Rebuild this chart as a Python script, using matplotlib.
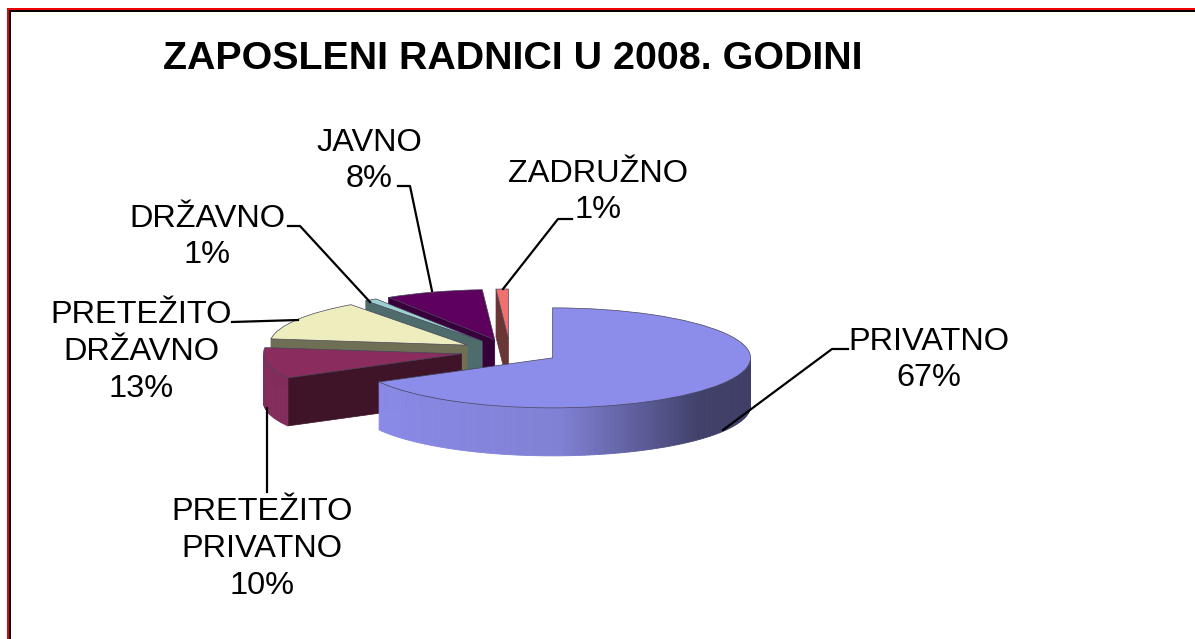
import numpy as np
import matplotlib
matplotlib.use("Agg")
import matplotlib.pyplot as plt
from matplotlib.patches import Polygon, Rectangle

W, H = 1195, 639

categories = ["PRIVATNO", "PRETEŽITO\nPRIVATNO", "PRETEŽITO\nDRŽAVNO", "DRŽAVNO", "JAVNO", "ZADRUŽNO"]
values = [67, 10, 13, 1, 8, 1]
title = "ZAPOSLENI RADNICI U 2008. GODINI"

# colours for each slice: top, side wall
top_colors = ["#8C8CEB", "#8A2C5E", "#EDEDBE", "#9FD0D0", "#5E005E", "#F07070"]
wall_colors = ["#8888E6", "#3F1428", "#6F6F55", "#4F6C6C", "#38003A", "#6A3535"]
outer_colors = ["#8888E6", "#832C5C", "#6F6F55", "#4F6C6C", "#38003A", "#6A3535"]

# pixel geometry of the pie
cx, cy = 510, 351.5
rx, ry = 198, 50
depth = 48 / ry
lim = 3

plt.rcParams["font.family"] = ["Liberation Sans", "DejaVu Sans"]

fig = plt.figure(figsize=(W / 100, H / 100), dpi=100)

# overlay in pixel coordinates for frame, lines and text
bg = fig.add_axes([0, 0, 1, 1])
bg.set_xlim(0, W)
bg.set_ylim(H, 0)
bg.axis("off")
bg.set_zorder(2)

# pie axes, squashed so that the circle becomes the ellipse
ax = fig.add_axes([(cx - lim * rx) / W, 1 - (cy + lim * ry) / H, 2 * lim * rx / W, 2 * lim * ry / H])
ax.set_zorder(1)
wedges, _ = ax.pie(values, colors=top_colors, explode=[0.25] * len(values), startangle=90,
                   counterclock=False, radius=1, wedgeprops={"linewidth": 0.5, "edgecolor": "#45455A"})
ax.set_aspect("auto")
ax.set_xlim(-lim, lim)
ax.set_ylim(-lim, lim)
ax.patch.set_alpha(0)


def shade(x):
    # privatno wall gets darker to the right
    r = np.interp(x, [-0.9, 0.05, 0.4, 0.75, 1], [0x8A, 0x80, 0x60, 0x40, 0x3E])
    g = np.interp(x, [-0.9, 0.05, 0.4, 0.75, 1], [0x8A, 0x80, 0x60, 0x40, 0x3E])
    b = np.interp(x, [-0.9, 0.05, 0.4, 0.75, 1], [0xE8, 0xD4, 0xA0, 0x6A, 0x66])
    return (r / 255, g / 255, b / 255)


# back slices first
draw_order = [5, 4, 3, 2, 1, 0]
for z, i in enumerate(draw_order):
    w = wedges[i]
    ox, oy = w.center
    t1, t2 = w.theta1, w.theta2
    w.set_zorder(z * 3 + 2)

    # radial faces that look towards the viewer
    for t, visible in ((t1, np.cos(np.radians(t1)) > 1e-6), (t2, np.cos(np.radians(t2)) < -1e-6)):
        if visible:
            ex, ey = ox + np.cos(np.radians(t)), oy + np.sin(np.radians(t))
            ax.add_patch(Polygon([(ox, oy), (ex, ey), (ex, ey - depth), (ox, oy - depth)],
                                 closed=True, fc=wall_colors[i], ec=wall_colors[i], lw=0.5, zorder=z * 3))

    # outer wall, lower half of the rim only
    arc = np.linspace(t1, t2, int((t2 - t1) / 1.5) + 2)
    arc = arc[np.sin(np.radians(arc)) < 0]
    for a, b in zip(arc[:-1], arc[1:]):
        xs = ox + np.cos(np.radians([a, b]))
        ys = oy + np.sin(np.radians([a, b]))
        c = shade(xs.mean() - ox) if i == 0 else outer_colors[i]
        ax.add_patch(Polygon([(xs[0], ys[0]), (xs[1], ys[1]), (xs[1], ys[1] - depth), (xs[0], ys[0] - depth)],
                             closed=True, fc=c, ec=c, lw=0.6, zorder=z * 3 + 1))

# frame, only top and left are in the picture
bg.add_patch(Rectangle((9, 10), W - 9, 1.6, fc="black", ec="none"))
bg.add_patch(Rectangle((9, 10), 2, H - 10, fc="black", ec="none"))
bg.add_patch(Rectangle((7, 8), W - 7, 2, fc="#F00000", ec="none"))
bg.add_patch(Rectangle((7, 8), 2, H - 8, fc="#F00000", ec="none"))

bg.text(163, 59, title, fontsize=28.4, fontweight="bold", va="center", ha="left")

# labels
label_pos = [(929, 360), (262, 549), (141, 352), (207, 237), (369, 161), (598, 192)]
for name, v, (x, y) in zip(categories, values, label_pos):
    bg.text(x, y, f"{name}\n{v}%", fontsize=23.4, ha="center", va="center", linespacing=1.29)

# leader lines
leaders = [
    [(723, 430), (832, 349), (848, 349)],
    [(267, 408), (267, 492)],
    [(298, 320), (232, 322)],
    [(370, 302), (300, 226), (288, 226)],
    [(432, 291), (410, 186), (398, 186)],
    [(503, 289), (558, 219), (572, 219)],
]
for pts in leaders:
    xs, ys = zip(*pts)
    bg.plot(xs, ys, color="black", lw=1.6, zorder=10)

fig.savefig("out.png", dpi=100)
